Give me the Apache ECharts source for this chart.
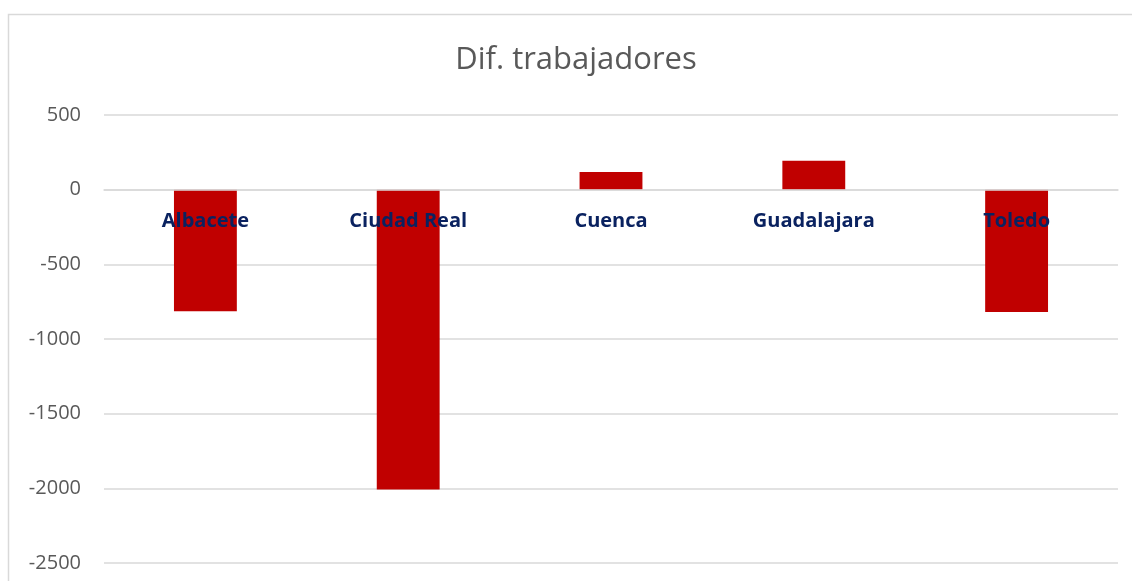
<!DOCTYPE html>
<html>
<head>
<meta charset="utf-8">
<script src="https://cdn.jsdelivr.net/npm/echarts@6/dist/echarts.min.js"></script>
<style>
html, body { margin: 0; padding: 0; background: #fff; }
#chart { width: 1132px; height: 581px; }
</style>
</head>
<body>
<div id="chart"></div>
<script>
// provincias
const provincias = ['Albacete', 'Ciudad Real', 'Cuenca', 'Guadalajara', 'Toledo'];
// diferencia de trabajadores
const difTrabajadores = [-815, -2008, 118, 194, -820];
// eje y
const yMin = -2500;
const yMax = 500;
const yStep = 500;

const chart = echarts.init(document.getElementById('chart'));

// alto del grid y posicion del cero, para subir el eje x hasta el cero
const gridTop = 115;
const gridBottom = 18;
const plotH = 581 - gridTop - gridBottom;
const zeroFromBottom = plotH * (0 - yMin) / (yMax - yMin);

const option = {
  backgroundColor: '#fff',
  animation: false,
  graphic: [{
    type: 'rect',
    shape: { x: 8.5, y: 14.5, width: 1200, height: 700 },
    style: { fill: 'none', stroke: '#d9d9d9', lineWidth: 1.5 },
    z: -1
  }],
  title: {
    text: 'Dif. trabajadores',
    left: 571,
    textAlign: 'center',
    top: 40,
    textStyle: {
      fontFamily: 'Open Sans',
      fontSize: 31,
      fontWeight: 'normal',
      color: '#595959'
    }
  },
  grid: {
    left: 104,
    right: 14,
    top: gridTop,
    bottom: gridBottom,
    outerBoundsMode: 'none'
  },
  xAxis: {
    type: 'category',
    data: provincias,
    z: 10,
    position: 'bottom',
    offset: -zeroFromBottom,
    axisLine: { show: true, onZero: false, lineStyle: { color: '#d9d9d9', width: 1.5 } },
    axisTick: { show: false },
    axisLabel: {
      interval: 0,
      margin: 22,
      fontFamily: 'Open Sans',
      fontSize: 20,
      fontWeight: 'bold',
      color: '#0a2260'
    }
  },
  yAxis: {
    type: 'value',
    min: yMin,
    max: yMax,
    interval: yStep,
    axisLine: { show: false },
    axisTick: { show: false },
    splitLine: { lineStyle: { color: '#d9d9d9', width: 1.5 } },
    axisLabel: {
      margin: 23,
      fontFamily: 'Open Sans',
      fontSize: 20,
      color: '#595959',
      formatter: v => String(v)
    }
  },
  series: [{
    type: 'bar',
    data: difTrabajadores,
    barWidth: '31%',
    itemStyle: { color: '#c00000' }
  }]
};

chart.setOption(option);
</script>
</body>
</html>
